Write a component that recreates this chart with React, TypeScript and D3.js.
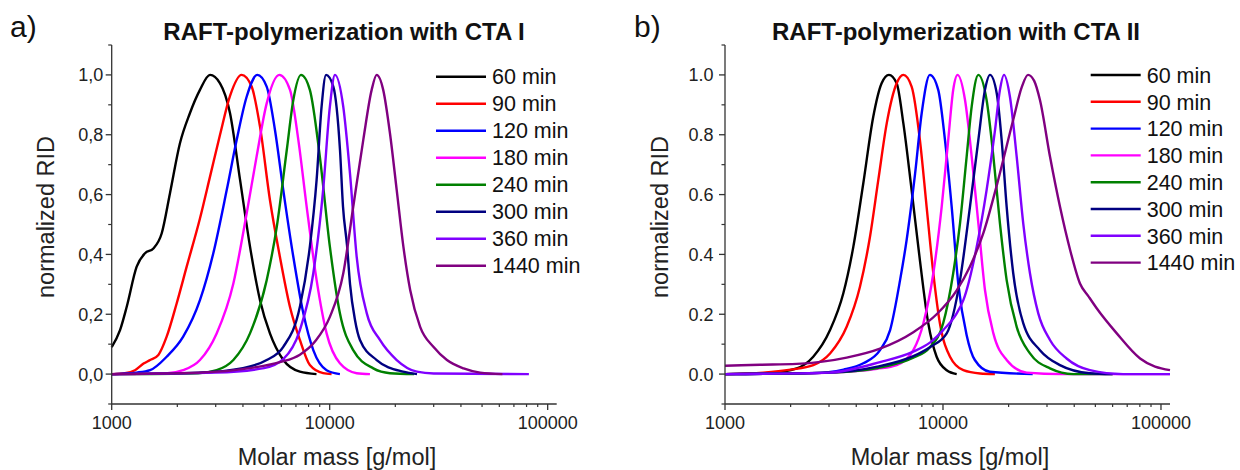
import React from "react";
import * as d3 from "d3";

type Pt = [number, number];

const seriesLabels = ["60 min", "90 min", "120 min", "180 min", "240 min", "300 min", "360 min", "1440 min"];
const seriesColors = ["#000000", "#ff0000", "#0000ff", "#ff00ff", "#008000", "#000080", "#8000ff", "#800080"];
const xTickValues = [1000, 10000, 100000];
const yMajorTicks = [0, 0.2, 0.4, 0.6, 0.8, 1.0];
const yMinorTicks = [-0.1, 0.1, 0.3, 0.5, 0.7, 0.9, 1.1];
const xDomain: [number, number] = [1000, 110000];
const yDomain: [number, number] = [-0.1, 1.1];

// Panel a) CTA I  : [molar mass, normalized RID]
const a60: Pt[] = [[1000, 0.09], [1092, 0.147], [1172, 0.225], [1302, 0.359], [1422, 0.404], [1553, 0.42], [1695, 0.47], [1850, 0.604], [2055, 0.771], [2284, 0.872], [2540, 0.95], [2825, 1.0], [3140, 0.972], [3490, 0.872], [3880, 0.649], [4310, 0.426], [4790, 0.247], [5320, 0.136], [6130, 0.047], [7300, 0.008], [8700, 0.0]];
const a90: Pt[] = [[1000, 0], [1150, 0.003], [1279, 0.013], [1400, 0.035], [1500, 0.047], [1637, 0.064], [1787, 0.125], [1986, 0.236], [2208, 0.359], [2540, 0.52], [2825, 0.66], [3140, 0.8], [3490, 0.93], [3945, 1.0], [4385, 0.961], [4790, 0.827], [5320, 0.582], [5910, 0.392], [6570, 0.225], [7300, 0.114], [8110, 0.03], [9330, 0.003], [10200, 0]];
const a120: Pt[] = [[1000, 0], [1300, 0.005], [1500, 0.013], [1787, 0.058], [2128, 0.125], [2540, 0.247], [2925, 0.404], [3370, 0.615], [3745, 0.783], [4160, 0.927], [4655, 1.0], [5140, 0.961], [5610, 0.816], [6125, 0.615], [6810, 0.392], [7570, 0.203], [8410, 0.08], [9680, 0.013], [11140, 0]];
const a180: Pt[] = [[1000, 0], [1800, 0.003], [2128, 0.013], [2540, 0.047], [3030, 0.136], [3615, 0.303], [4160, 0.537], [4620, 0.727], [5140, 0.905], [5875, 1.0], [6575, 0.95], [7180, 0.783], [7840, 0.56], [8710, 0.314], [9680, 0.136], [11140, 0.036], [13300, 0.003], [15300, 0]];
const a240: Pt[] = [[1000, 0], [2500, 0.003], [3030, 0.013], [3615, 0.047], [4310, 0.136], [5140, 0.314], [5720, 0.493], [6355, 0.749], [6810, 0.916], [7385, 1.0], [8110, 0.95], [9010, 0.727], [10020, 0.426], [11140, 0.203], [12820, 0.08], [15850, 0.019], [18900, 0.003], [24400, 0]];
const a300: Pt[] = [[1000, 0], [2500, 0.005], [4000, 0.02], [5140, 0.047], [6125, 0.091], [7300, 0.225], [8110, 0.426], [8710, 0.649], [9180, 0.894], [9620, 1.0], [10390, 0.961], [11150, 0.749], [11510, 0.56], [12010, 0.43], [12400, 0.3], [13070, 0.18], [13770, 0.114], [16430, 0.047], [21690, 0.008], [25150, 0]];
const a360: Pt[] = [[1000, 0], [3000, 0.005], [5000, 0.02], [6125, 0.05], [7300, 0.147], [8410, 0.337], [9330, 0.615], [10020, 0.894], [10570, 1.0], [11540, 0.894], [12390, 0.671], [13300, 0.392], [14800, 0.203], [17000, 0.114], [20300, 0.047], [25100, 0.008], [30000, 0.002], [82000, 0]];
const a1440: Pt[] = [[1000, 0], [2540, 0.005], [4310, 0.02], [5910, 0.04], [7300, 0.065], [8580, 0.11], [10030, 0.192], [11545, 0.337], [12830, 0.56], [14260, 0.783], [15580, 0.95], [16430, 1.0], [17600, 0.95], [18900, 0.805], [20300, 0.615], [21780, 0.426], [23400, 0.281], [26000, 0.158], [29900, 0.091], [34500, 0.047], [41150, 0.019], [49000, 0.005], [62000, 0]];

// Panel b) CTA II
const b60: Pt[] = [[1000, 0], [1600, 0.004], [2133, 0.019], [2540, 0.058], [3033, 0.147], [3490, 0.27], [3880, 0.426], [4310, 0.638], [4790, 0.861], [5230, 0.972], [5650, 1.0], [6130, 0.972], [6580, 0.838], [7180, 0.615], [7835, 0.381], [8560, 0.17], [9350, 0.058], [10400, 0.013], [11560, 0]];
const b90: Pt[] = [[1000, 0], [1500, 0.005], [2000, 0.015], [2540, 0.03], [3033, 0.069], [3615, 0.158], [4160, 0.292], [4625, 0.459], [5050, 0.649], [5520, 0.838], [6130, 0.972], [6580, 1.0], [7180, 0.961], [7835, 0.783], [8410, 0.56], [9030, 0.337], [9680, 0.17], [10770, 0.058], [12400, 0.013], [14800, 0.002], [17300, 0]];
const b120: Pt[] = [[1000, 0], [2500, 0.003], [3500, 0.015], [4310, 0.036], [5140, 0.08], [5720, 0.147], [6355, 0.314], [6810, 0.448], [7450, 0.671], [7985, 0.872], [8710, 1.0], [9510, 0.95], [10210, 0.783], [10960, 0.56], [11760, 0.3], [12840, 0.13], [14000, 0.047], [16400, 0.008], [25800, 0]];
const b180: Pt[] = [[1000, 0], [2500, 0.003], [4000, 0.01], [5000, 0.018], [6130, 0.03], [7310, 0.08], [8130, 0.17], [9030, 0.337], [9865, 0.56], [10570, 0.783], [11140, 0.95], [11670, 1.0], [12620, 0.916], [13540, 0.727], [14530, 0.504], [15580, 0.281], [17030, 0.136], [19590, 0.047], [24200, 0.005], [35000, 0], [110000, 0]];
const b240: Pt[] = [[1000, 0], [3000, 0.005], [5000, 0.02], [6130, 0.035], [7310, 0.055], [8710, 0.09], [10020, 0.17], [11140, 0.337], [11970, 0.504], [12840, 0.727], [13540, 0.894], [14530, 1.0], [15850, 0.916], [17030, 0.727], [18250, 0.504], [19590, 0.314], [21780, 0.158], [25060, 0.069], [30960, 0.019], [39600, 0], [60000, 0]];
const b300: Pt[] = [[1000, 0], [3000, 0.005], [5000, 0.025], [7310, 0.06], [8710, 0.09], [10400, 0.136], [11970, 0.314], [13300, 0.56], [14530, 0.783], [15580, 0.95], [16430, 1.0], [17640, 0.939], [18580, 0.783], [19590, 0.56], [21000, 0.337], [23340, 0.17], [27850, 0.08], [34400, 0.03], [47200, 0.003], [60000, 0]];
const b360: Pt[] = [[1000, 0], [3000, 0.005], [5140, 0.04], [7310, 0.075], [8710, 0.105], [10020, 0.147], [11560, 0.203], [12400, 0.247], [14280, 0.426], [15850, 0.615], [17330, 0.816], [18250, 0.95], [19050, 1.0], [20280, 0.927], [21780, 0.727], [23340, 0.504], [25060, 0.337], [27360, 0.203], [30960, 0.114], [36900, 0.052], [47200, 0.013], [67000, 0], [110000, 0]];
const b1440: Pt[] = [[1000, 0.028], [1450, 0.031], [2133, 0.034], [3615, 0.055], [5140, 0.085], [7310, 0.14], [9350, 0.2], [11560, 0.28], [13300, 0.36], [15300, 0.47], [17640, 0.63], [21000, 0.85], [23000, 0.96], [24550, 1.0], [26200, 0.98], [27850, 0.916], [30960, 0.727], [34400, 0.56], [38300, 0.415], [42500, 0.303], [46500, 0.26], [50700, 0.22], [62700, 0.136], [80200, 0.052], [110000, 0.013]];

const panelAData = [a60, a90, a120, a180, a240, a300, a360, a1440];
const panelBData = [b60, b90, b120, b180, b240, b300, b360, b1440];

const FONT = "'Liberation Sans', Arial, Helvetica, sans-serif";
const AXIS = "#333333";

interface PanelProps {
  left: number;
  width: number;
  data: Pt[][];
  title: string;
  letter: string;
  letterX: number;
  decimal: string;
  yLabelGap: number;
  yTitleX: number;
  titleX: number;
  xTitleX: number;
  legendX: number;
  legendY0: number;
  legendDy: number;
}

function Panel(p: PanelProps) {
  const top = 45;
  const bottom = 404;
  const x = d3.scaleLog().domain(xDomain).range([p.left, p.left + p.width]);
  const y = d3.scaleLinear().domain(yDomain).range([bottom, top]);
  const line = d3
    .line<Pt>()
    .x((d) => x(d[0]))
    .y((d) => y(d[1]))
    .curve(d3.curveMonotoneX);

  const minorX: number[] = [];
  for (let dec = 1000; dec < 110000; dec *= 10) {
    for (let k = 2; k <= 9; k++) {
      const v = dec * k;
      if (v <= xDomain[1]) minorX.push(v);
    }
  }
  const fmt = (v: number) => d3.format(".1f")(v).replace(".", p.decimal);

  return (
    <g>
      <text x={p.letterX} y={37} fontSize={30} fontFamily={FONT} fill="#111">
        {p.letter}
      </text>
      <text x={p.titleX} y={40} fontSize={24} fontWeight="bold" fontFamily={FONT} textAnchor="middle" fill="#111">
        {p.title}
      </text>

      {/* curves */}
      {p.data.map((d, i) => (
        <path key={i} d={line(d) || ""} fill="none" stroke={seriesColors[i]} strokeWidth={2.4} strokeLinejoin="round" />
      ))}

      {/* axes */}
      <line x1={p.left} x2={p.left} y1={top} y2={bottom} stroke={AXIS} strokeWidth={1.3} />
      <line x1={p.left} x2={p.left + p.width} y1={bottom} y2={bottom} stroke={AXIS} strokeWidth={1.3} />
      {yMajorTicks.map((v) => (
        <g key={"ym" + v}>
          <line x1={p.left - 6} x2={p.left} y1={y(v)} y2={y(v)} stroke={AXIS} strokeWidth={1.3} />
          <text x={p.left - p.yLabelGap} y={y(v)} dy="0.36em" textAnchor="end" fontSize={18} fontFamily={FONT} fill="#222">
            {fmt(v)}
          </text>
        </g>
      ))}
      {yMinorTicks.map((v) => (
        <line key={"yn" + v} x1={p.left - 3.5} x2={p.left} y1={y(v)} y2={y(v)} stroke={AXIS} strokeWidth={1.2} />
      ))}
      {xTickValues.map((v) => (
        <g key={"xm" + v}>
          <line x1={x(v)} x2={x(v)} y1={bottom} y2={bottom + 6} stroke={AXIS} strokeWidth={1.3} />
          <text x={x(v)} y={429} textAnchor="middle" fontSize={18} fontFamily={FONT} fill="#222">
            {String(v)}
          </text>
        </g>
      ))}
      {minorX.map((v) => (
        <line key={"xn" + v} x1={x(v)} x2={x(v)} y1={bottom} y2={bottom + 3} stroke={AXIS} strokeWidth={1.2} />
      ))}

      {/* axis titles */}
      <text x={p.xTitleX} y={465} textAnchor="middle" fontSize={23.5} fontFamily={FONT} fill="#222">
        Molar mass [g/mol]
      </text>
      <text
        transform={`translate(${p.yTitleX},217) rotate(-90)`}
        textAnchor="middle"
        fontSize={23.5}
        fontFamily={FONT}
        fill="#222"
      >
        normalized RID
      </text>

      {/* legend */}
      {seriesLabels.map((s, i) => {
        const ly = p.legendY0 + i * p.legendDy;
        return (
          <g key={"lg" + i}>
            <line x1={p.legendX} x2={p.legendX + 50} y1={ly} y2={ly} stroke={seriesColors[i]} strokeWidth={2.4} />
            <text x={p.legendX + 56} y={ly} dy="0.36em" fontSize={21.5} fontFamily={FONT} fill="#111">
              {s}
            </text>
          </g>
        );
      })}
    </g>
  );
}

export default function App() {
  return (
    <svg
      width={1240}
      height={470}
      viewBox="0 0 1240 470"
      style={{ position: "absolute", left: 0, top: 0, background: "#fff" }}
    >
      <rect x={0} y={0} width={1240} height={470} fill="#fff" />
      <Panel
        left={111.7}
        width={445}
        data={panelAData}
        title="RAFT-polymerization with CTA I"
        letter="a)"
        letterX={10}
        decimal=","
        yLabelGap={8.5}
        yTitleX={54}
        titleX={344}
        xTitleX={337}
        legendX={436}
        legendY0={76.7}
        legendDy={27}
      />
      <Panel
        left={725}
        width={445}
        data={panelBData}
        title="RAFT-polymerization with CTA II"
        letter="b)"
        letterX={634}
        decimal="."
        yLabelGap={11.5}
        yTitleX={667.5}
        titleX={956}
        xTitleX={950}
        legendX={1090.7}
        legendY0={75}
        legendDy={26.8}
      />
    </svg>
  );
}
